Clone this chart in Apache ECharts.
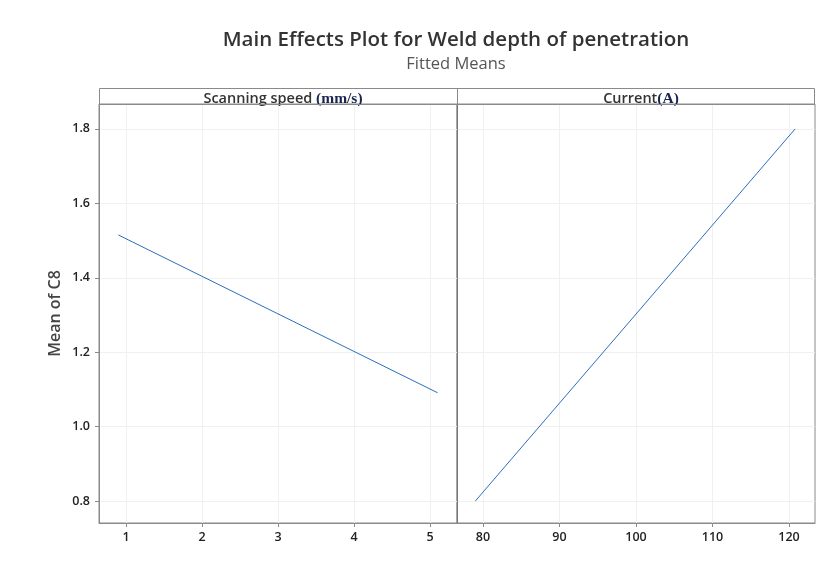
<!DOCTYPE html>
<html><head><meta charset="utf-8">
<script src="https://cdn.jsdelivr.net/npm/echarts@6/dist/echarts.min.js"></script>
<style>html,body{margin:0;padding:0;background:#fff}#c{width:840px;height:563px}</style>
</head><body><div id="c"></div>
<script>
const titleText = 'Main Effects Plot for Weld depth of penetration';
const subtitleText = 'Fitted Means';
const yAxisName = 'Mean of C8';
const panelNames = ['Scanning speed ', 'Current'];
const panelUnits = ['(mm/s)', '(A)'];
const speedX = [0.9, 5.1];
const speedY = [1.515, 1.091];
const currentX = [79.0, 120.8];
const currentY = [0.80, 1.80];
const speedTicks = [1, 2, 3, 4, 5];
const currentTicks = [80, 90, 100, 110, 120];
const yTicks = [0.8, 1.0, 1.2, 1.4, 1.6, 1.8];

const FONT = '"Open Sans","Noto Sans",sans-serif';
const axisCol = '#8a8a8a';
const gridCol = '#f0f0f0';
const lineCol = '#2a6fc0';

const chart = echarts.init(document.getElementById('c'));
function xAx(idx, ticks, min, max) {
  return {
    type: 'value', gridIndex: idx, min: min, max: max,
    axisLine: {show: true, lineStyle: {color: axisCol, width: 1}},
    axisTick: {show: true, customValues: ticks, length: 4, lineStyle: {color: axisCol}},
    axisLabel: {customValues: ticks, color: '#222', fontFamily: FONT, fontSize: 12.5, fontWeight: 600, margin: 8},
    splitLine: {show: true, lineStyle: {color: gridCol, width: 1}}
  };
}
function yAx(idx, showLabels) {
  return {
    type: 'value', gridIndex: idx, min: 0.741, max: 1.867,
    name: showLabels ? yAxisName : '', nameLocation: 'middle', nameGap: 36,
    nameTextStyle: {color: '#444', fontFamily: FONT, fontSize: 16, fontWeight: 600},
    axisLine: {show: true, lineStyle: {color: showLabels ? axisCol : '#777', width: 1}},
    axisTick: {show: showLabels, customValues: yTicks, length: 4, lineStyle: {color: axisCol}},
    axisLabel: {show: showLabels, customValues: yTicks, color: '#222', fontFamily: FONT, fontSize: 12.5, fontWeight: 600, margin: 9,
      formatter: v => v.toFixed(1)},
    splitLine: {show: true, lineStyle: {color: gridCol, width: 1}}
  };
}
const headRich = {a: {color: '#333', fontFamily: FONT, fontSize: 14.5, fontWeight: 600},
                  b: {color: '#1b2550', fontFamily: '"Liberation Serif",serif', fontSize: 15.5, fontWeight: 'bold'}};
chart.setOption({
  animation: false,
  backgroundColor: '#fff',
  title: [
    {text: titleText, left: 451, top: 25, textAlign: 'center',
     textStyle: {color: '#333', fontFamily: FONT, fontSize: 20.5, fontWeight: 600}},
    {text: subtitleText, left: 451, top: 51, textAlign: 'center',
     textStyle: {color: '#555', fontFamily: FONT, fontSize: 16.5, fontWeight: 'normal'}},
    {text: '{a|' + panelNames[0] + '}{b|' + panelUnits[0] + '}', left: 278, top: 86, textAlign: 'center',
     textStyle: {rich: headRich}},
    {text: '{a|' + panelNames[1] + '}{b|' + panelUnits[1] + '}', left: 636, top: 86, textAlign: 'center',
     textStyle: {rich: headRich}}
  ],
  graphic: [
    {type: 'rect', shape: {x: 99.5, y: 88.5, width: 715, height: 16}, style: {fill: 'none', stroke: axisCol, lineWidth: 1}, z: 10},
    {type: 'line', shape: {x1: 457.5, y1: 88, x2: 457.5, y2: 104}, style: {stroke: axisCol, lineWidth: 1}, z: 10}
  ],
  grid: [
    {left: 99, top: 104, width: 358, height: 419, show: true, borderColor: axisCol, borderWidth: 1},
    {left: 457, top: 104, width: 358, height: 419, show: true, borderColor: axisCol, borderWidth: 1}
  ],
  xAxis: [xAx(0, speedTicks, 0.645, 5.355), xAx(1, currentTicks, 76.6, 123.4)],
  yAxis: [yAx(0, true), yAx(1, false)],
  series: [
    {type: 'line', xAxisIndex: 0, yAxisIndex: 0, data: speedX.map((x, i) => [x, speedY[i]]),
     showSymbol: false, lineStyle: {color: lineCol, width: 1}},
    {type: 'line', xAxisIndex: 1, yAxisIndex: 1, data: currentX.map((x, i) => [x, currentY[i]]),
     showSymbol: false, lineStyle: {color: lineCol, width: 1}}
  ]
});
</script></body></html>
